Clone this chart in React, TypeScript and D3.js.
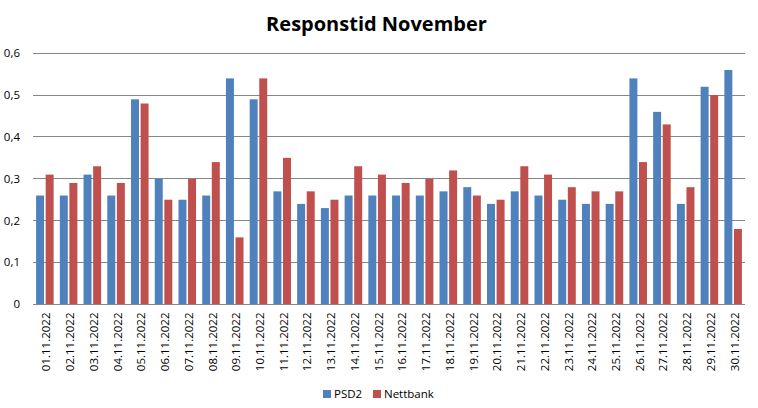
import React from "react";
import * as d3 from "d3";

const categories = [
  "01.11.2022","02.11.2022","03.11.2022","04.11.2022","05.11.2022","06.11.2022",
  "07.11.2022","08.11.2022","09.11.2022","10.11.2022","11.11.2022","12.11.2022",
  "13.11.2022","14.11.2022","15.11.2022","16.11.2022","17.11.2022","18.11.2022",
  "19.11.2022","20.11.2022","21.11.2022","22.11.2022","23.11.2022","24.11.2022",
  "25.11.2022","26.11.2022","27.11.2022","28.11.2022","29.11.2022","30.11.2022",
];
const psd2 = [
  0.26, 0.26, 0.31, 0.26, 0.49, 0.30, 0.25, 0.26, 0.54, 0.49,
  0.27, 0.24, 0.23, 0.26, 0.26, 0.26, 0.26, 0.27, 0.28, 0.24,
  0.27, 0.26, 0.25, 0.24, 0.24, 0.54, 0.46, 0.24, 0.52, 0.56,
];
const nettbank = [
  0.31, 0.29, 0.33, 0.29, 0.48, 0.25, 0.30, 0.34, 0.16, 0.54,
  0.35, 0.27, 0.25, 0.33, 0.31, 0.29, 0.30, 0.32, 0.26, 0.25,
  0.33, 0.31, 0.28, 0.27, 0.27, 0.34, 0.43, 0.28, 0.50, 0.18,
];
const seriesNames = ["PSD2", "Nettbank"];
const seriesColors = ["#4F81BD", "#C0504D"];
const yTicks = [0, 0.1, 0.2, 0.3, 0.4, 0.5, 0.6];
const title = "Responstid November";

const W = 758;
const H = 408;
const FONT = "'Open Sans', 'DejaVu Sans', sans-serif";

export default function App() {
  const left = 33;
  const right = 745;
  const top = 53.3;
  const bottom = 304.3;

  const x = d3.scaleBand<string>().domain(categories).range([left, right]).paddingInner(0.26).paddingOuter(0.13);
  const xs = d3.scaleBand<string>().domain(seriesNames).range([0, x.bandwidth()]).paddingInner(0.167);
  const y = d3.scaleLinear().domain([0, 0.6]).range([bottom, top]);
  const fmt = (v: number) => (v === 0 ? "0" : d3.format(".1f")(v).replace(".", ","));
  const data = [psd2, nettbank];

  return (
    <svg width={W} height={H} style={{ position: "absolute", left: 0, top: 0, background: "#fff" }} fontFamily={FONT}>
      <rect x={0} y={0} width={W} height={H} fill="#fff" />
      <text x={376.5} y={31} textAnchor="middle" fontSize={20} fontWeight={700} fill="#000">{title}</text>
      {yTicks.map((t) => (
        <g key={t}>
          <line x1={left} x2={right} y1={y(t)} y2={y(t)} stroke="#868686" strokeWidth={1} shapeRendering="crispEdges" />
          <text x={20} y={y(t)} dy="0.35em" textAnchor="end" fontSize={11.5} fill="#000">{fmt(t)}</text>
        </g>
      ))}
      {data.map((vals, si) => (
        <g key={si} fill={seriesColors[si]}>
          {vals.map((v, i) => (
            <rect
              key={i}
              x={(x(categories[i]) as number) + (xs(seriesNames[si]) as number)}
              y={y(v)}
              width={xs.bandwidth()}
              height={y(0) - y(v)}
            />
          ))}
        </g>
      ))}
      <line x1={left} x2={right} y1={y(0)} y2={y(0)} stroke="#868686" strokeWidth={1} shapeRendering="crispEdges" />
      {categories.map((c) => {
        const cx = (x(c) as number) + x.bandwidth() / 2 + 1.5;
        return (
          <text key={c} transform={`translate(${cx},312.5) rotate(-90)`} textAnchor="end" dy="0.35em" fontSize={11.5} fill="#000">
            {c}
          </text>
        );
      })}
      <g>
        <rect x={323} y={390} width={8} height={8} fill={seriesColors[0]} />
        <text x={334} y={398} fontSize={11.5} fill="#000">{seriesNames[0]}</text>
        <rect x={373} y={390} width={8} height={8} fill={seriesColors[1]} />
        <text x={384} y={398} fontSize={11.5} fill="#000">{seriesNames[1]}</text>
      </g>
    </svg>
  );
}
